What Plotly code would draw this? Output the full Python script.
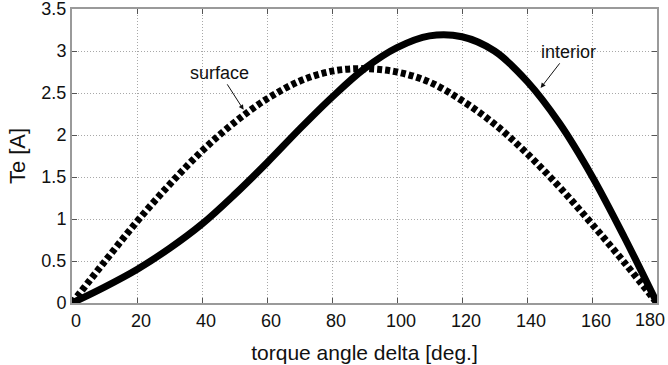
import plotly.graph_objects as go

# torque angle (deg)
delta = [0, 10, 20, 30, 40, 50, 60, 70, 80, 90,
         100, 110, 120, 130, 140, 150, 160, 170, 180]

# electromagnetic torque, surface-mounted PM machine
te_surface = [0, 0.49, 0.97, 1.41, 1.81, 2.15, 2.43, 2.64, 2.76, 2.79,
              2.75, 2.63, 2.41, 2.13, 1.78, 1.38, 0.94, 0.48, 0]

# electromagnetic torque, interior PM machine
te_interior = [0, 0.19, 0.40, 0.65, 0.94, 1.29, 1.67, 2.07, 2.45, 2.79,
               3.04, 3.18, 3.17, 3.00, 2.64, 2.14, 1.51, 0.78, 0]

x_ticks = [0, 20, 40, 60, 80, 100, 120, 140, 160, 180]
x_tick_text = ["0", "20", "40", "60", "80", "100", "120", "140", "160", "180"]
y_ticks = [0, 0.5, 1, 1.5, 2, 2.5, 3, 3.5]
y_tick_text = ["0", "0.5", "1", "1.5", "2", "2.5", "3", "3.5"]

FONT = "Liberation Sans, Arial, sans-serif"
INK = "#111111"
TICK_SIZE = 18

fig = go.Figure()
fig.add_trace(go.Scatter(
    x=delta, y=te_surface, mode="lines", name="surface",
    line=dict(color="black", width=7, dash="5px,3px", shape="spline", smoothing=1.0),
))
fig.add_trace(go.Scatter(
    x=delta, y=te_interior, mode="lines", name="interior",
    line=dict(color="black", width=7, shape="spline", smoothing=1.0),
))

axis_common = dict(
    showline=True, linecolor="#9a9a9a", linewidth=2, mirror="ticks",
    ticks="inside", ticklen=5, tickcolor="#555555", tickwidth=1,
    showgrid=True, gridcolor="#a8a8a8", gridwidth=1, griddash="1px,2px",
    zeroline=False, automargin=False,
    tickfont=dict(family=FONT, size=TICK_SIZE, color=INK),
)

# the last x label sits at the right edge of the page, so it is drawn
# right-aligned as an annotation instead of a centred tick label
fig.update_xaxes(
    range=[0, 180], tickvals=x_ticks,
    ticktext=x_tick_text[:-1] + [""], ticklabelshift=4,
    title=dict(text="torque angle delta [deg.]", font=dict(family=FONT, size=21, color=INK), standoff=16),
    **axis_common,
)
fig.add_annotation(
    x=x_ticks[-1], xref="x", y=0, yref="paper",
    xanchor="right", yanchor="top", xshift=10, yshift=-5,
    text=x_tick_text[-1], showarrow=False,
    font=dict(family=FONT, size=TICK_SIZE, color=INK),
)

fig.update_yaxes(
    range=[0, 3.5], tickvals=y_ticks, ticktext=y_tick_text, ticklabeloverflow="allow",
    title=dict(text="Te [A]", font=dict(family=FONT, size=22, color=INK), standoff=10),
    **axis_common,
)

ann_font = dict(family=FONT, size=18, color=INK)
fig.add_annotation(
    x=52.8, y=2.30, ax=45.5, ay=2.74, axref="x", ayref="y",
    text="surface", font=ann_font, showarrow=True,
    arrowhead=2, arrowsize=1, arrowwidth=1, arrowcolor=INK,
)
fig.add_annotation(
    x=144.2, y=2.56, ax=152.8, ay=2.99, axref="x", ayref="y",
    text="interior", font=ann_font, showarrow=True,
    arrowhead=2, arrowsize=1, arrowwidth=1, arrowcolor=INK,
)

fig.update_layout(
    width=668, height=365,
    margin=dict(l=72, r=11, t=9, b=62),
    paper_bgcolor="white", plot_bgcolor="white",
    showlegend=False,
)

fig.write_html("out.html")
